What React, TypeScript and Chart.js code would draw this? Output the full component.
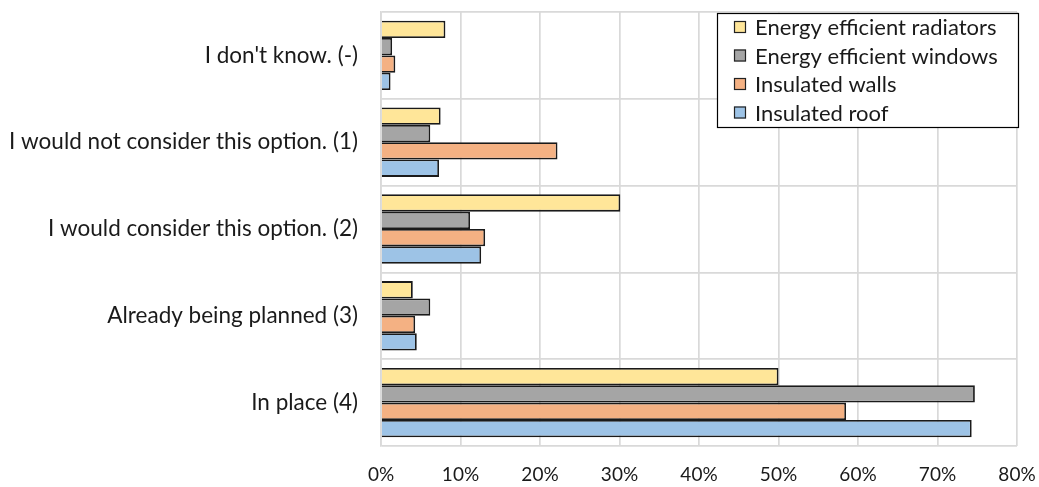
import React, { useEffect, useRef } from "react";
import { Chart, registerables } from "chart.js";

Chart.register(...registerables);

const categories = [
  "I don't know. (-)",
  "I would not consider this option. (1)",
  "I would consider this option. (2)",
  "Already being planned (3)",
  "In place (4)",
];
const seriesNames = [
  "Energy efficient radiators",
  "Energy efficient windows",
  "Insulated walls",
  "Insulated roof",
];
const radiators = [8.1, 7.5, 30.1, 4.0, 50.0];
const windows = [1.4, 6.2, 11.2, 6.2, 74.7];
const walls = [1.8, 22.2, 13.1, 4.3, 58.5];
const roof = [1.2, 7.3, 12.6, 4.5, 74.3];
const xTicks = [0, 10, 20, 30, 40, 50, 60, 70, 80];

const colors = ["#FFE699", "#A5A5A5", "#F4B183", "#9DC3E6"];
const FONT = "Lato, 'Liberation Sans', sans-serif";

const legendPlugin = {
  id: "insideLegend",
  afterDraw(chart: any) {
    const ctx = chart.ctx;
    const area = chart.chartArea;
    const right = area.right + 1;
    const left = right - 301;
    const top = area.top + 1;
    const bottom = top + 114;
    ctx.save();
    ctx.fillStyle = "#ffffff";
    ctx.fillRect(left, top, right - left, bottom - top);
    ctx.strokeStyle = "#000000";
    ctx.lineWidth = 1.2;
    ctx.strokeRect(left + 0.5, top + 0.5, right - left, bottom - top);
    ctx.font = `22px ${FONT}`;
    ctx.textBaseline = "middle";
    ctx.textAlign = "left";
    chart.data.datasets.forEach((ds: any, i: number) => {
      const cy = top + 14 + i * 28.5;
      ctx.fillStyle = ds.backgroundColor;
      ctx.fillRect(left + 17, cy - 6, 12, 12);
      ctx.strokeStyle = "#222";
      ctx.lineWidth = 1.2;
      ctx.strokeRect(left + 17.5, cy - 5.5, 11, 11);
      ctx.fillStyle = "#1a1a1a";
      ctx.fillText(ds.label, left + 38, cy + 1);
    });
    ctx.restore();
  },
};

const zeroPad = (axis: any) => {
  axis.paddingTop = 0;
  axis.paddingBottom = 0;
  axis.paddingLeft = 0;
  axis.paddingRight = 0;
};

export default function App() {
  const ref = useRef<HTMLCanvasElement | null>(null);
  useEffect(() => {
    if (!ref.current) return;
    const series = [radiators, windows, walls, roof];
    const chart = new Chart(ref.current, {
      type: "bar",
      data: {
        labels: categories,
        datasets: series.map((d, i) => ({
          label: seriesNames[i],
          data: d,
          backgroundColor: colors[i],
          borderColor: "#1a1a1a",
          borderWidth: 1.8,
          categoryPercentage: 0.8,
          barPercentage: 1.0,
        })),
      },
      options: {
        indexAxis: "y",
        animation: false,
        responsive: false,
        maintainAspectRatio: false,
        layout: { padding: { top: 12, right: 22, left: 0, bottom: 0 } },
        plugins: { legend: { display: false }, tooltip: { enabled: false } },
        scales: {
          x: {
            min: 0,
            max: 80,
            afterBuildTicks: (axis: any) => {
              axis.ticks = xTicks.map((v) => ({ value: v }));
            },
            grid: { color: "#D9D9D9", lineWidth: 1.7, drawTicks: false },
            border: { display: false },
            ticks: {
              padding: 17,
              color: "#1a1a1a",
              font: { size: 19, family: FONT },
              callback: (v: any) => v + "%",
            },
            afterFit: (axis: any) => {
              axis.height = 41;
              zeroPad(axis);
            },
          },
          y: {
            grid: { color: "#D9D9D9", lineWidth: 1.7, drawTicks: false, offset: true },
            border: { display: true, color: "#D9D9D9", width: 1.7 },
            ticks: {
              padding: 23,
              color: "#1a1a1a",
              font: { size: 22.5, family: FONT },
            },
            afterFit: (axis: any) => {
              axis.width = 381;
              zeroPad(axis);
            },
          },
        },
      },
      plugins: [legendPlugin],
    } as any);
    return () => chart.destroy();
  }, []);
  return (
    <div style={{ position: "fixed", left: 0, top: 0, width: 1039, height: 487, background: "#fff" }}>
      <canvas ref={ref} width={1039} height={487} style={{ width: 1039, height: 487 }} />
    </div>
  );
}
